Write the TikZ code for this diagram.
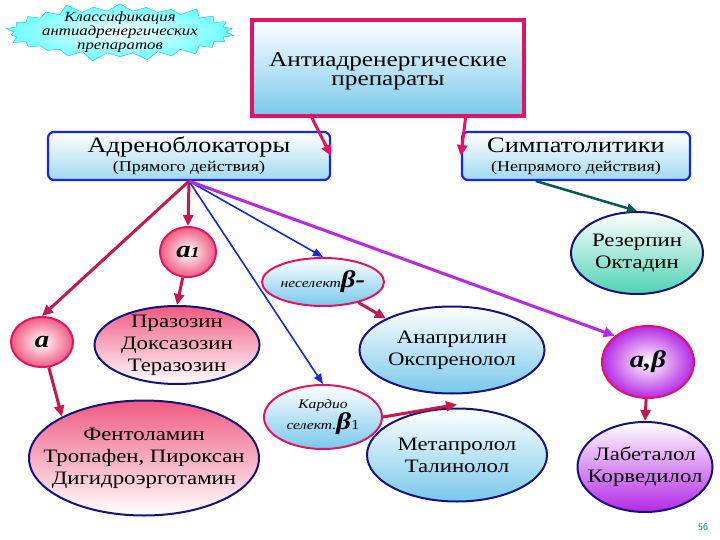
\documentclass[tikz,border=0pt]{standalone}
\usepackage{fontspec}
\setmainfont[FakeStretch=1.2]{Liberation Serif}
\usetikzlibrary{shapes.geometric,shapes.symbols,arrows.meta}
\definecolor{pk}{RGB}{225,20,100}
\definecolor{nv}{RGB}{20,20,120}
\definecolor{bl}{RGB}{20,40,220}
\definecolor{lb}{RGB}{120,200,235}
\definecolor{lp}{RGB}{240,90,130}
\definecolor{vi}{RGB}{180,40,230}
\definecolor{tl}{RGB}{80,210,180}
\definecolor{cr}{RGB}{195,25,75}
\tikzset{
 ell/.style={ellipse,draw=nv,line width=2pt,inner xsep=-30pt,inner ysep=-8pt,align=center,font=\fontsize{19}{22}\selectfont},
 bluee/.style={ell,top color=white,bottom color=lb},
 pinke/.style={ell,top color=lp,bottom color=white},
 circ/.style={ellipse,draw=pk,line width=2pt,inner sep=0pt,inner color=white,outer color=lp,font=\bfseries\itshape\fontsize{24}{24}\selectfont},
 sel/.style={ellipse,draw=pk,line width=2pt,inner sep=-10pt,align=center,top color=white,bottom color=lb},
 cls/.style={rounded corners=6pt,draw=bl,line width=2.2pt,top color=white,bottom color=lb!70,align=center,minimum width=282pt,minimum height=48pt},
 thick1/.style={-{Triangle[length=11pt,width=10pt]},line width=3pt,draw=cr},
 thin1/.style={-{Triangle[length=10pt,width=8pt]},line width=1.6pt,draw=bl},
}
\begin{document}
\begin{tikzpicture}[x=1pt,y=-1pt]
\useasboundingbox (0,0) rectangle (720,540);
\node[starburst,starburst points=26,starburst point height=10pt,draw=cyan!80,fill=cyan!70,inner color=white,outer color=cyan!60,minimum width=232pt,minimum height=62pt,inner sep=-20pt,align=center,font=\itshape\fontsize{14}{14}\selectfont] (st) at (120,32) {Классификация\\антиадренергических\\препаратов};
\node[draw=pk,line width=4pt,top color=white,bottom color=lb,minimum width=272pt,minimum height=96pt,align=center,font=\fontsize{21}{19}\selectfont] (top) at (388,68) {\\[2pt]Антиадренергические\\препараты};
\node[cls,font=\fontsize{22}{22}\selectfont] (ab) at (189,156) {Адреноблокаторы\\[-3pt]{\fontsize{15}{16}\selectfont(Прямого действия)}};
\node[cls,minimum width=228pt,font=\fontsize{22}{22}\selectfont] (sm) at (576,156) {Симпатолитики\\[-3pt]{\fontsize{15}{16}\selectfont(Непрямого действия)}};
\node[circ,minimum width=56pt,minimum height=50pt] (a1) at (188,252) {a{\fontsize{15}{15}\selectfont 1}};
\node[circ,minimum width=62pt,minimum height=50pt] (a) at (42,342) {a};
\node[pinke,minimum width=165pt,minimum height=78pt] (pr) at (177,345) {Празозин\\Доксазозин\\Теразозин};
\node[pinke,minimum width=230pt,minimum height=115pt] (ft) at (144,458) {Фентоламин\\Тропафен, Пироксан\\Дигидроэрготамин};
\node[sel,minimum width=122pt,minimum height=48pt] (ns) at (323,282) {{\itshape\fontsize{13}{14}\selectfont неселект}{\bfseries\itshape\fontsize{24}{24}\selectfont β-}};
\node[bluee,minimum width=185pt,minimum height=87pt] (an) at (452,350) {Анаприлин\\Окспренолол};
\node[sel,minimum width=118pt,minimum height=64pt] (ks) at (323,417) {{\itshape\fontsize{13}{13}\selectfont Кардио}\\[0pt]{\itshape\fontsize{13}{13}\selectfont селект.}{\bfseries\itshape\fontsize{24}{24}\selectfont β}{\fontsize{14}{14}\selectfont 1}};
\node[bluee,minimum width=180pt,minimum height=93pt] (mt) at (457,455) {Метапролол\\Талинолол};
\node[ell,top color=white,bottom color=tl,minimum width=132pt,minimum height=82pt] (rz) at (637,253) {Резерпин\\Октадин};
\node[circ,inner color=white,outer color=vi,minimum width=92pt,minimum height=72pt] (ab2) at (648,362) {a,β};
\node[ell,top color=white,bottom color=vi,minimum width=135pt,minimum height=90pt] (lb) at (645,467) {Лабеталол\\Корведилол};
\node[text=teal,font=\sffamily\fontsize{10}{10}\selectfont] (pg) at (703,527) {56};
\draw[thick1,draw=pk] (top.south west) ++(60,-4) coordinate (t1) -- (ab.east);
\draw[thick1,draw=pk] (top.south east) ++(-60,-4) coordinate (t2) -- (sm.west);
\draw[-{Triangle[length=10pt,width=9pt]},line width=2.5pt,draw=teal!70!black] (sm.south) ++(-40,0) coordinate (s1) -- (rz.north);
\coordinate (b0) at (ab.south);
\draw[thick1] (b0) -- (a.north);
\draw[thick1] (b0) -- (a1.north);
\draw[thin1] (b0) -- (ks.north);
\draw[thin1] (b0) -- (ns.north);
\draw[thick1,draw=vi] (b0) -- (ab2.north west);
\draw[thick1] (a1) -- (pr.north);
\draw[thick1] (a) -- (ft.north west);
\draw[thick1] (ns) -- (an.north west);
\coordinate (mtt) at ([yshift=3pt]mt.north);
\draw[thick1] (ks.east) -- (mtt);
\draw[thick1] (ab2) -- (lb.north);
\end{tikzpicture}
\end{document}
